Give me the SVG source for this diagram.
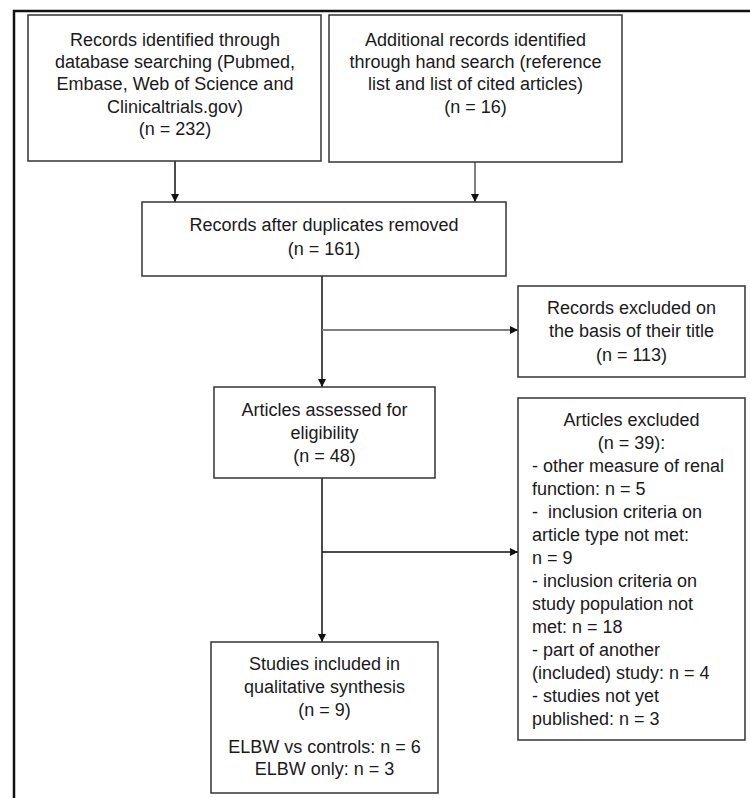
<svg xmlns="http://www.w3.org/2000/svg" width="750" height="798" viewBox="0 0 750 798">
<style>
text{font-family:"Liberation Sans",Arial,sans-serif;font-size:18px;fill:#1a1a1a}
.c{text-anchor:middle}
.box{fill:#fff;stroke:#333;stroke-width:1.5}
.k{stroke:#111;stroke-width:1.5;fill:none}
.g{stroke:#808080;stroke-width:2;fill:none}
</style>
<defs>
<marker id="ah" markerWidth="10" markerHeight="10" refX="9" refY="5" orient="auto" markerUnits="userSpaceOnUse">
<path d="M1,1 L9,5 L1,9 Z" fill="#111"/>
</marker>
</defs>
<rect width="750" height="798" fill="#fff"/>
<path d="M14,800 L14,11 L752,11" fill="none" stroke="#111" stroke-width="2.5"/>
<g id="connectors">
<line class="k" x1="175" y1="161" x2="175" y2="202" marker-end="url(#ah)"/>
<line class="g" x1="475" y1="162" x2="475" y2="202" marker-end="url(#ah)"/>
<line class="k" x1="322" y1="276" x2="322" y2="387" marker-end="url(#ah)"/>
<line class="g" x1="322" y1="330" x2="518" y2="330" marker-end="url(#ah)"/>
<line class="k" x1="322" y1="478" x2="322" y2="642" marker-end="url(#ah)"/>
<line class="k" x1="322" y1="552" x2="518" y2="552" marker-end="url(#ah)"/>
</g>
<g id="n1">
<rect class="box" x="28" y="15" width="293" height="146"/>
<text class="c" x="175" y="46">Records identified through</text>
<text class="c" x="175" y="68">database searching (Pubmed,</text>
<text class="c" x="175" y="90">Embase, Web of Science and</text>
<text class="c" x="175" y="113">Clinicaltrials.gov)</text>
<text class="c" x="175" y="135">(n = 232)</text>
</g>
<g id="n2">
<rect class="box" x="329" y="15" width="293" height="147"/>
<text class="c" x="475.5" y="46">Additional records identified</text>
<text class="c" x="475.5" y="68">through hand search (reference</text>
<text class="c" x="475.5" y="90">list and list of cited articles)</text>
<text class="c" x="475.5" y="113">(n = 16)</text>
</g>
<g id="n3">
<rect class="box" x="142" y="202" width="364" height="74"/>
<text class="c" x="324" y="231">Records after duplicates removed</text>
<text class="c" x="324" y="255">(n = 161)</text>
</g>
<g id="n4">
<rect class="box" x="518" y="286" width="227" height="91"/>
<text class="c" x="631.5" y="314">Records excluded on</text>
<text class="c" x="631.5" y="337">the basis of their title</text>
<text class="c" x="631.5" y="361">(n = 113)</text>
</g>
<g id="n5">
<rect class="box" x="214" y="387" width="221" height="91"/>
<text class="c" x="324.5" y="416">Articles assessed for</text>
<text class="c" x="324.5" y="439">eligibility</text>
<text class="c" x="324.5" y="462">(n = 48)</text>
</g>
<g id="n6">
<rect class="box" x="518" y="398" width="227" height="342"/>
<text class="c" x="631.5" y="426">Articles excluded</text>
<text class="c" x="631.5" y="449">(n = 39):</text>
<text x="532" y="472">- other measure of renal</text>
<text x="532" y="495">function: n = 5</text>
<text x="532" y="518" xml:space="preserve">-  inclusion criteria on</text>
<text x="532" y="541">article type not met:</text>
<text x="532" y="564">n = 9</text>
<text x="532" y="587">- inclusion criteria on</text>
<text x="532" y="610">study population not</text>
<text x="532" y="633">met: n = 18</text>
<text x="532" y="656">- part of another</text>
<text x="532" y="679">(included) study: n = 4</text>
<text x="532" y="702">- studies not yet</text>
<text x="532" y="725">published: n = 3</text>
</g>
<g id="n7">
<rect class="box" x="211" y="642" width="227" height="151"/>
<text class="c" x="324.5" y="670">Studies included in</text>
<text class="c" x="324.5" y="693">qualitative synthesis</text>
<text class="c" x="324.5" y="716">(n = 9)</text>
<text class="c" x="324.5" y="753">ELBW vs controls: n = 6</text>
<text class="c" x="324.5" y="775">ELBW only: n = 3</text>
</g>
</svg>
